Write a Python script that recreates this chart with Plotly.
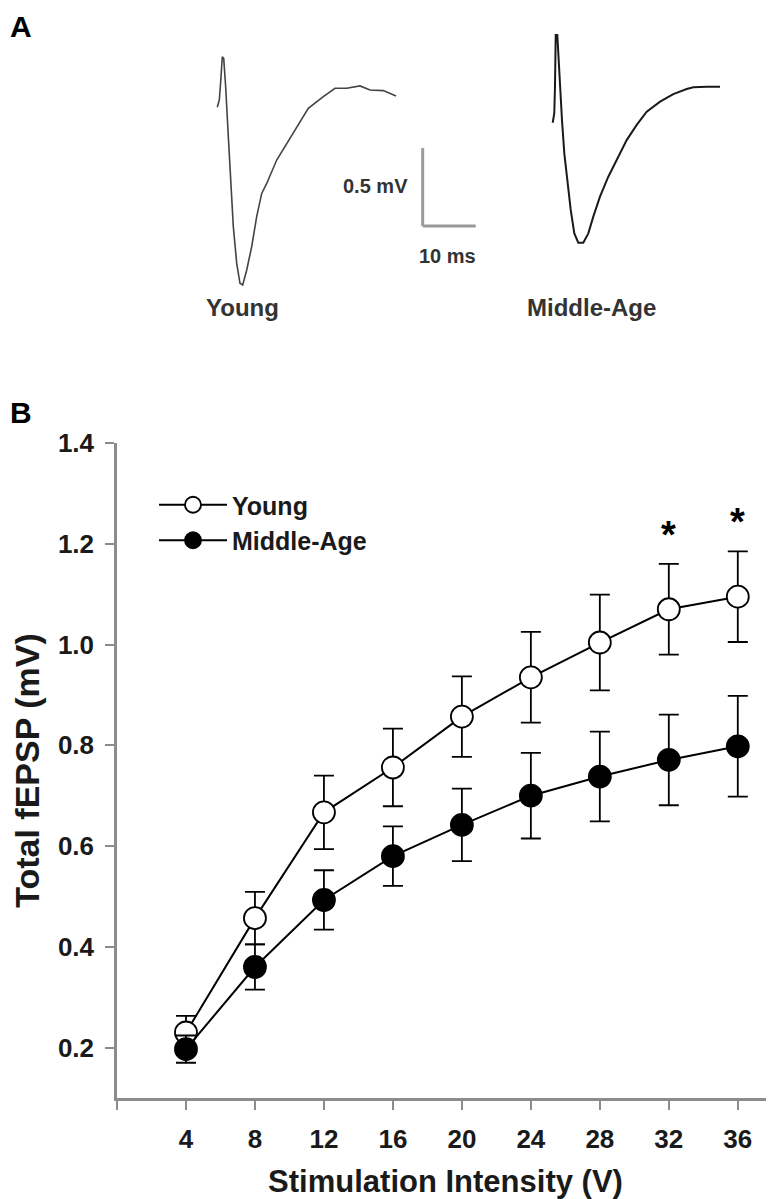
import plotly.graph_objects as go

# ---------------- Panel B data ----------------
intensity = [4, 8, 12, 16, 20, 24, 28, 32, 36]
young_mean = [0.230, 0.457, 0.667, 0.756, 0.857, 0.935, 1.004, 1.070, 1.095]
young_sem = [0.033, 0.052, 0.073, 0.077, 0.080, 0.090, 0.095, 0.090, 0.090]
mid_mean = [0.197, 0.360, 0.493, 0.580, 0.642, 0.700, 0.738, 0.771, 0.798]
mid_sem = [0.027, 0.045, 0.059, 0.059, 0.072, 0.085, 0.089, 0.090, 0.100]
signif_x = [32, 36]
x_ticks = [0, 4, 8, 12, 16, 20, 24, 28, 32, 36]
x_ticktext = ["", "4", "8", "12", "16", "20", "24", "28", "32", "36"]
y_ticks = [0.2, 0.4, 0.6, 0.8, 1.0, 1.2, 1.4]

# ---------------- Panel A example traces (ms, mV) ----------------
young_t = [0.00, 0.38, 0.64, 0.94, 1.21, 1.58, 2.08, 2.53, 3.02, 3.66, 4.28, 4.79, 5.55,
           6.49, 7.43, 8.38, 9.32, 11.21, 13.09, 14.98, 17.17, 20.00, 22.21, 24.42,
           26.92, 28.81, 31.32, 33.72]
young_v = [-0.111, -0.064, 0.053, 0.213, 0.203, 0.021, -0.299, -0.577, -0.876, -1.111,
           -1.239, -1.250, -1.154, -1.004, -0.812, -0.663, -0.599, -0.449, -0.342,
           -0.235, -0.117, -0.043, 0.011, 0.011, 0.026, 0.000, -0.004, -0.038]
mid_t = [0.00, 0.30, 0.43, 0.57, 0.87, 1.13, 1.38, 1.75, 2.19, 2.75, 3.40, 4.08, 4.83,
         5.77, 6.72, 7.66, 8.92, 10.49, 12.08, 13.96, 15.85, 17.74, 20.26, 22.75,
         25.28, 26.53, 29.06, 31.57]
mid_v = [-0.210, -0.149, 0.021, 0.353, 0.353, 0.192, -0.043, -0.192, -0.406, -0.577,
         -0.769, -0.919, -0.979, -0.979, -0.919, -0.812, -0.684, -0.556, -0.449,
         -0.321, -0.224, -0.139, -0.075, -0.026, 0.006, 0.017, 0.021, 0.021]
scale_ms = 10
scale_mv = 0.5

# page body margin compensation (browser default 8px)
OFF = 8
W, H = 774 - OFF, 1199 - OFF
ML, MR, MT, MB = 117 - OFF, 0, 10 - OFF, 101
PW, PH = W - ML - MR, H - MT - MB


def px(x):  # page pixel -> paper fraction
    return (x - OFF - ML) / PW


def py(y):
    return (H - MB - (y - OFF)) / PH


FONT = "Liberation Sans, Arial, sans-serif"

fig = go.Figure()

# Panel A traces
fig.add_trace(go.Scatter(x=young_t, y=young_v, mode="lines", xaxis="x2", yaxis="y2",
                         line=dict(color="#444444", width=1.6), showlegend=False,
                         hoverinfo="skip"))
fig.add_trace(go.Scatter(x=mid_t, y=mid_v, mode="lines", xaxis="x3", yaxis="y2",
                         line=dict(color="#1a1a1a", width=2.0), showlegend=False,
                         hoverinfo="skip"))

# Panel B
fig.add_trace(go.Scatter(
    x=intensity, y=young_mean, name="Young", mode="lines+markers",
    line=dict(color="black", width=2),
    marker=dict(size=22, color="white", line=dict(color="black", width=1.8)),
    error_y=dict(type="data", array=young_sem, color="black", thickness=1.8, width=10),
))
fig.add_trace(go.Scatter(
    x=intensity, y=mid_mean, name="Middle-Age", mode="lines+markers",
    line=dict(color="black", width=2),
    marker=dict(size=22, color="black", line=dict(color="black", width=1.8)),
    error_y=dict(type="data", array=mid_sem, color="black", thickness=1.8, width=10),
))

annotations = []
for sx in signif_x:
    i = intensity.index(sx)
    annotations.append(dict(x=sx, y=young_mean[i] + young_sem[i], xref="x", yref="y",
                            text="*", showarrow=False, yanchor="bottom", yshift=6,
                            font=dict(family=FONT, size=38, color="black", weight="bold")))

# Scale bar (in young-trace axis coordinates)
sb_t0, sb_v0 = 38.75, -0.872
fig.add_shape(type="line", xref="x2", yref="y2", x0=sb_t0, x1=sb_t0, y0=sb_v0,
              y1=sb_v0 + scale_mv, line=dict(color="#999999", width=3))
fig.add_shape(type="line", xref="x2", yref="y2", x0=sb_t0, x1=sb_t0 + scale_ms, y0=sb_v0,
              y1=sb_v0, line=dict(color="#999999", width=3))

lab = dict(family=FONT, color="#333333", weight="bold")
annotations += [
    dict(x=px(410), y=py(186), xref="paper", yref="paper", text=f"{scale_mv} mV",
         xanchor="right", yanchor="middle", showarrow=False, font=dict(size=20, **lab)),
    dict(x=px(447), y=py(256), xref="paper", yref="paper", text=f"{scale_ms} ms",
         xanchor="center", yanchor="middle", showarrow=False, font=dict(size=20, **lab)),
    dict(x=px(242), y=py(307), xref="paper", yref="paper", text="Young",
         xanchor="center", yanchor="middle", showarrow=False, font=dict(size=24, **lab)),
    dict(x=px(591), y=py(307), xref="paper", yref="paper", text="Middle-Age",
         xanchor="center", yanchor="middle", showarrow=False, font=dict(size=24, **lab)),
    dict(x=px(OFF), y=py(OFF), xref="paper", yref="paper", text="A",
         xanchor="left", yanchor="top", showarrow=False,
         font=dict(family=FONT, size=30, color="black", weight="bold")),
    dict(x=px(OFF), y=py(412), xref="paper", yref="paper", text="B",
         xanchor="left", yanchor="middle", showarrow=False,
         font=dict(family=FONT, size=30, color="black", weight="bold")),
]

axis_gray = "#8c8c8c"
tickfont = dict(family=FONT, size=26, color="#1a1a1a", weight="bold")

fig.update_layout(
    width=W, height=H,
    margin=dict(l=ML, r=MR, t=MT, b=MB, autoexpand=False),
    paper_bgcolor="white", plot_bgcolor="white",
    showlegend=True,
    legend=dict(x=px(154), y=py(482), xanchor="left", yanchor="top",
                bgcolor="rgba(0,0,0,0)", itemwidth=68, tracegroupgap=0,
                font=dict(family=FONT, size=25, color="#1a1a1a", weight="bold")),
    annotations=annotations,
    xaxis=dict(domain=[0, 1], range=[0, 38.1], tickvals=x_ticks, ticktext=x_ticktext,
               ticks="outside", ticklen=9, tickwidth=2, tickcolor=axis_gray,
               ticklabelstandoff=7, automargin=False,
               showline=True, linecolor=axis_gray, linewidth=2.5, showgrid=False,
               zeroline=False, tickfont=tickfont, anchor="y",
               title=dict(text="Stimulation Intensity (V)", standoff=20,
                          font=dict(family=FONT, size=31, color="#1a1a1a", weight="bold"))),
    yaxis=dict(domain=[0, py(443)], range=[0.1, 1.4], tickvals=y_ticks, tickformat=".1f",
               ticks="outside", ticklen=9, tickwidth=2, tickcolor=axis_gray,
               ticklabelstandoff=6, automargin=False,
               showline=True, linecolor=axis_gray, linewidth=2.5, showgrid=False,
               zeroline=False, tickfont=tickfont, anchor="x",
               title=dict(text="Total fEPSP (mV)", standoff=17,
                          font=dict(family=FONT, size=34, color="#1a1a1a", weight="bold"))),
    xaxis2=dict(domain=[0, px(500)], range=[(117 - 217.3) / 5.3, (500 - 217.3) / 5.3],
                visible=False, anchor="y2"),
    xaxis3=dict(domain=[px(500), 1], range=[(500 - 552.7) / 5.3, (774 - 552.7) / 5.3],
                visible=False, anchor="y2"),
    yaxis2=dict(domain=[py(320), py(20)], range=[-(320 - 90) / 156, (90 - 20) / 156],
                visible=False, anchor="x2"),
)

fig.write_html("out.html")
